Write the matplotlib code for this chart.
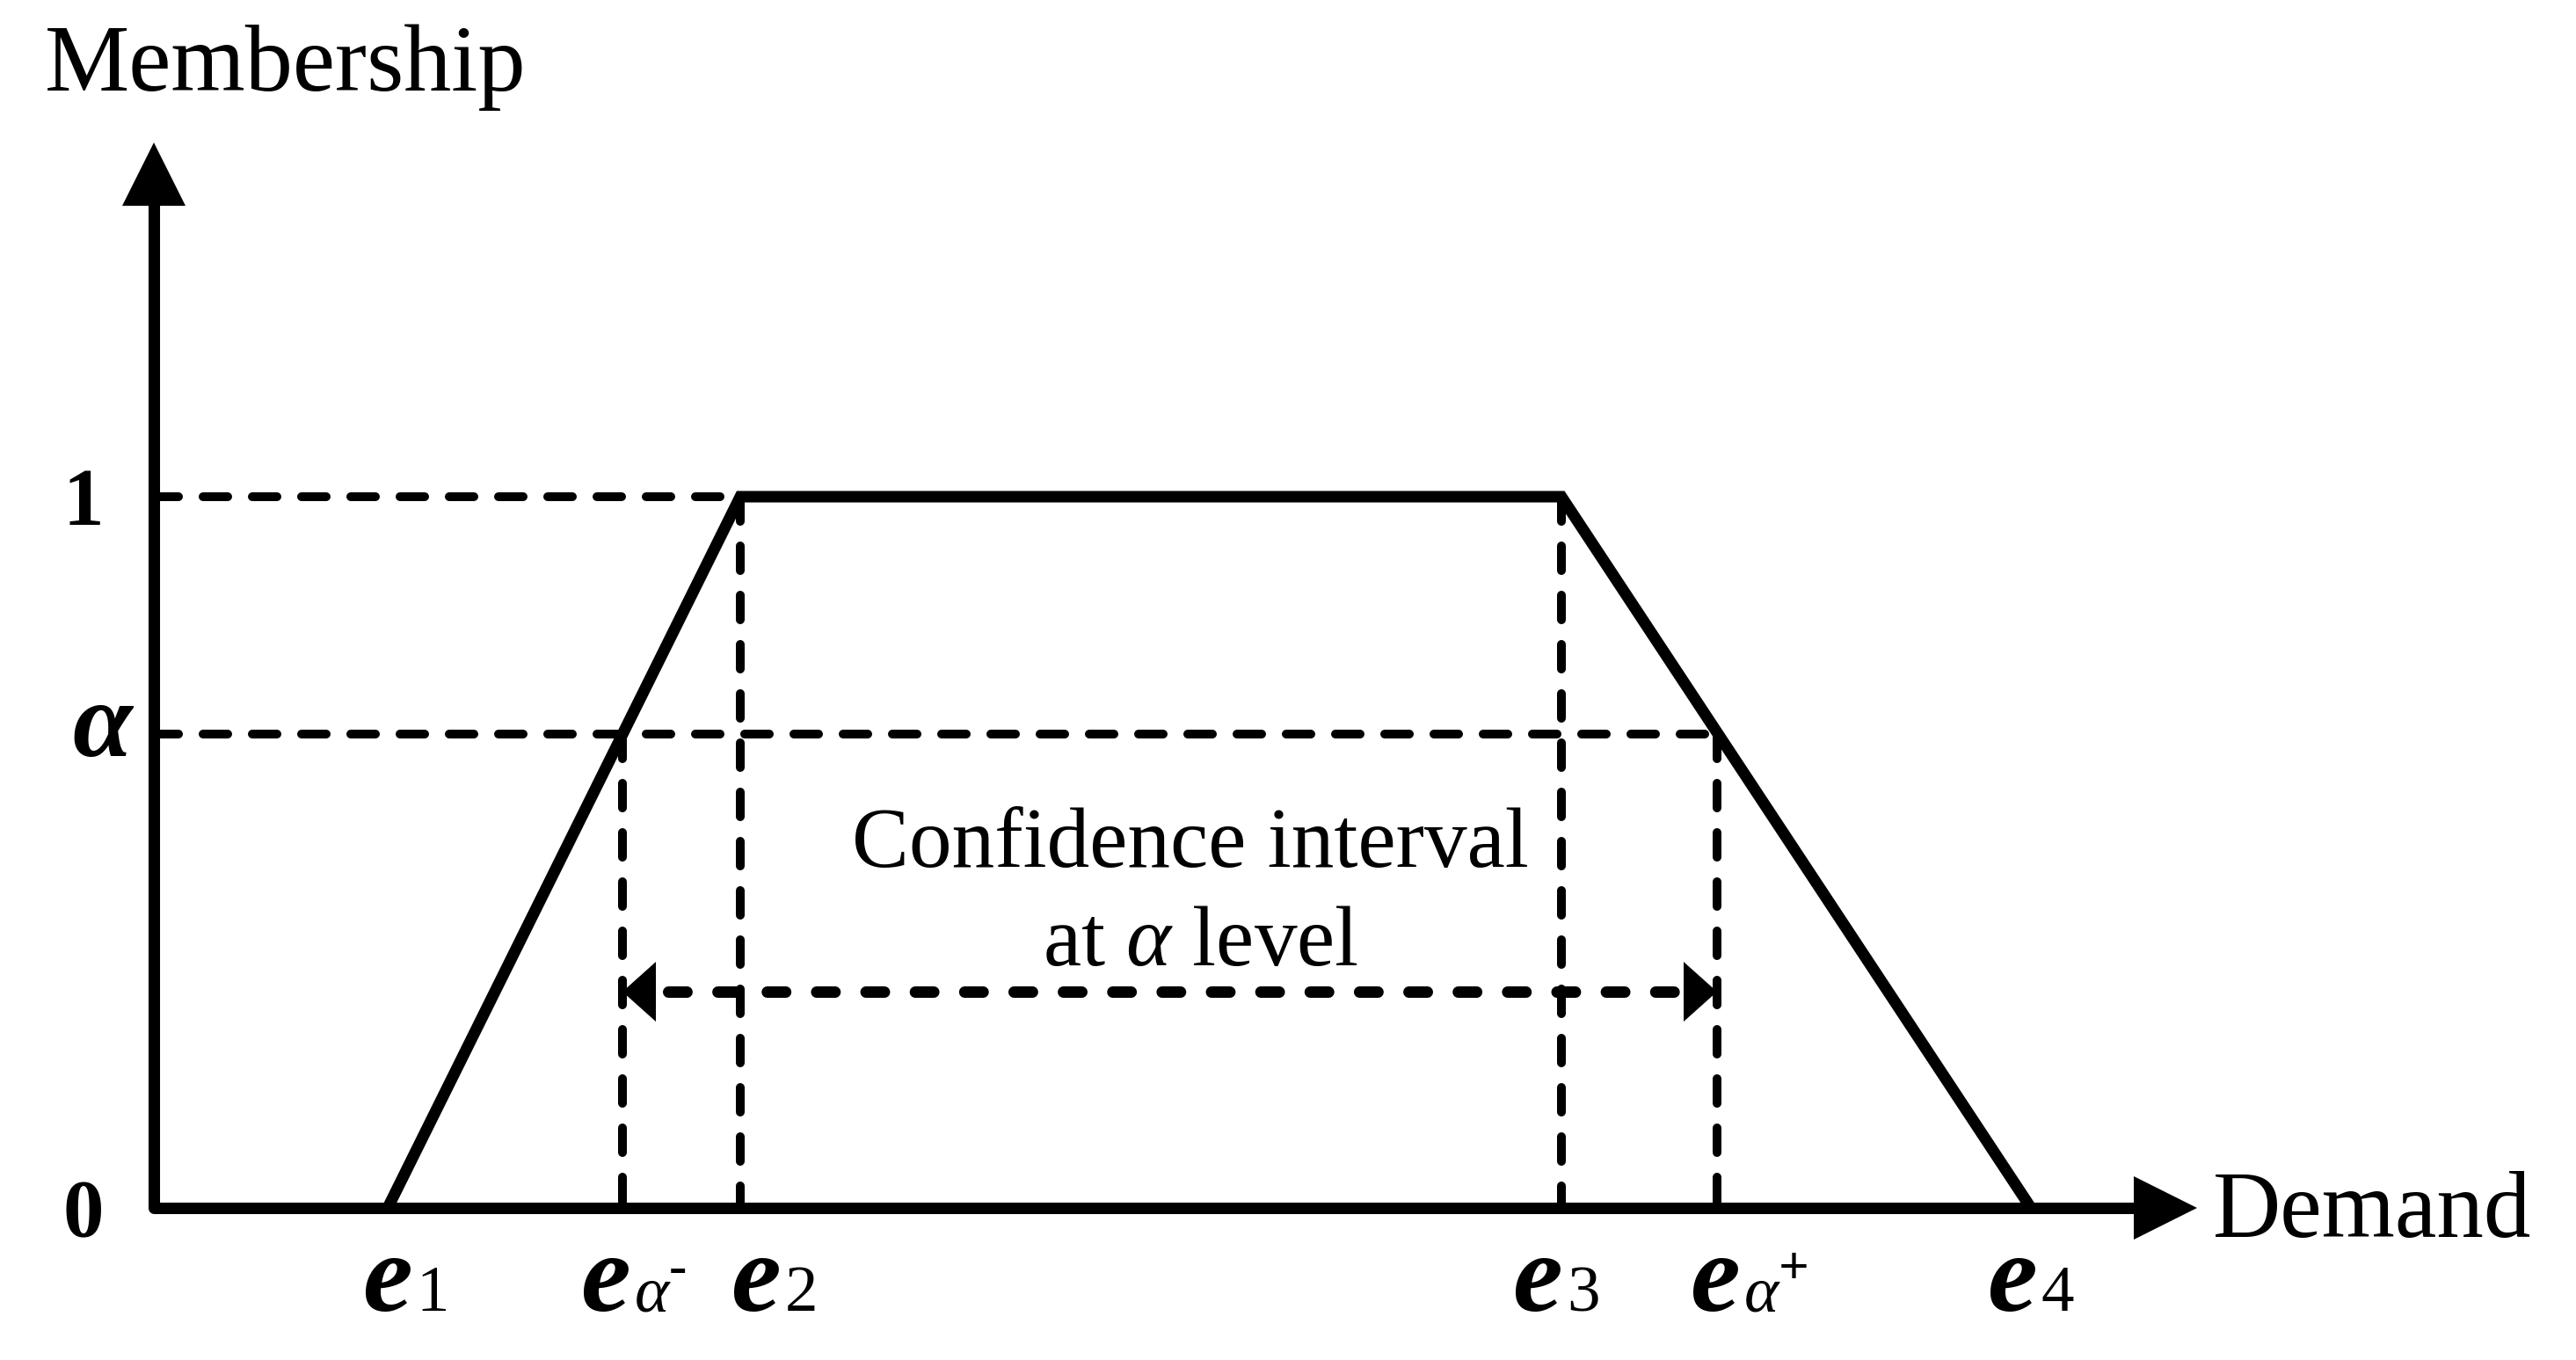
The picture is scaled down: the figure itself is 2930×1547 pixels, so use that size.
#!/usr/bin/env python3
"""Trapezoidal fuzzy membership function with an alpha-cut confidence interval."""

import matplotlib
matplotlib.use('Agg')
import matplotlib.pyplot as plt
from matplotlib.patches import Polygon

# ---- Data (demand in arbitrary units, membership 0..1) ----

E_POINTS = [2.66, 6.67, 16.01, 21.35]        # e1, e2, e3, e4
MEMBERSHIP = [0, 1, 1, 0]
ALPHA = 0.666
E_ALPHA = [5.33, 17.78]                      # e_alpha-, e_alpha+
ARROW_LEVEL = 0.304                          # height of the interval arrow

X_TIP = 23.24                                # end of demand axis
Y_TIP = 1.498                                # end of membership axis

Y_TICKS = [0, ALPHA, 1]
Y_TICK_LABELS = ['0', 'α', '1']

X_LABEL_POS = [E_POINTS[0], E_ALPHA[0], E_POINTS[1],
               E_POINTS[2], E_ALPHA[1], E_POINTS[3]]
X_LABEL_SUB = ['1', 'α', '2', '3', 'α', '4']
X_LABEL_SUP = ['', '-', '', '', '+', '']

# ---- Style ----

DPI = 100
W, H = 2930, 1547
SOLID_LW = 9.4
DASH_LW = 7.2
ARROW_LW = 9.4
AX_HEAD = (72, 36)       # length, half width (px)
IV_HEAD = (38, 34)
LABEL_DX = [-28, -47, -10, -55, -30, -49]  # left edge of 'e' vs tick (px)
LABEL_DY = -117                            # baseline below axis (px)

plt.rcParams['font.family'] = 'Liberation Serif'
plt.rcParams['mathtext.fontset'] = 'custom'
plt.rcParams['mathtext.rm'] = 'Liberation Serif'
plt.rcParams['mathtext.it'] = 'Liberation Serif:italic'


def shift(ax, x, y, dx_px, dy_px):
    """Data point moved by a pixel offset."""
    px, py = ax.transData.transform((x, y))
    return ax.transData.inverted().transform((px + dx_px, py + dy_px))


def head(ax, tip, direction, size):
    """Filled triangular arrowhead of fixed pixel size."""
    length, half = size
    ux, uy = direction
    tx, ty = tip
    left = shift(ax, tx, ty, -ux * length - uy * half, -uy * length + ux * half)
    right = shift(ax, tx, ty, -ux * length + uy * half, -uy * length - ux * half)
    ax.add_patch(Polygon([tip, left, right], closed=True, facecolor='black',
                         edgecolor='none', zorder=5, clip_on=False))


fig = plt.figure(figsize=(W / DPI, H / DPI), dpi=DPI)
ax = fig.add_axes([175 / W, 173 / H, 2400 / W, 1.5 * 809 / H])
ax.set_xlim(0, 24)
ax.set_ylim(0, 1.5)
ax.axis('off')

# guide lines (dashed)
dash = dict(color='black', lw=DASH_LW, dashes=(2.8, 2.8),
            dash_capstyle='round', zorder=2, clip_on=False)
ax.plot([0, E_POINTS[1]], [1, 1], **dash)
ax.plot([0, E_ALPHA[1]], [ALPHA, ALPHA], **dash)
for x, top in [(E_ALPHA[0], ALPHA), (E_POINTS[1], 1),
               (E_POINTS[2], 1), (E_ALPHA[1], ALPHA)]:
    ax.plot([x, x], [top, 0], **dash)

# membership function
ax.plot(E_POINTS, MEMBERSHIP, color='black', lw=SOLID_LW,
        solid_joinstyle='miter', solid_capstyle='butt', zorder=4, clip_on=False)

# axes with arrows
y_end = shift(ax, 0, Y_TIP, 0, -AX_HEAD[0] + 4)[1]
x_end = shift(ax, X_TIP, 0, -AX_HEAD[0] + 4, 0)[0]
ax.plot([0, 0, x_end], [y_end, 0, 0], color='black', lw=SOLID_LW,
        solid_joinstyle='round', solid_capstyle='butt', zorder=5, clip_on=False)
head(ax, (0, Y_TIP), (0, 1), AX_HEAD)
head(ax, (X_TIP, 0), (1, 0), AX_HEAD)

# confidence interval double arrow
x0 = shift(ax, E_ALPHA[0], ARROW_LEVEL, IV_HEAD[0] + 14, 0)[0]
x1 = shift(ax, E_ALPHA[1], ARROW_LEVEL, -IV_HEAD[0] - 4, 0)[0]
ax.plot([x0, x1], [ARROW_LEVEL, ARROW_LEVEL], color='black', lw=ARROW_LW,
        dashes=(1.6, 2.7), dash_capstyle='round', zorder=3, clip_on=False)
head(ax, (E_ALPHA[0], ARROW_LEVEL), (-1, 0), IV_HEAD)
head(ax, (E_ALPHA[1], ARROW_LEVEL), (1, 0), IV_HEAD)

# axis titles
ax.annotate('Membership', xy=(0, Y_TIP), xytext=(-124, 59),
            textcoords='offset pixels', ha='left', va='baseline',
            fontsize=78, annotation_clip=False)
ax.annotate('Demand', xy=(X_TIP, 0), xytext=(18, -33),
            textcoords='offset pixels', ha='left', va='baseline',
            fontsize=77, annotation_clip=False)

# y tick labels
for yv, lab in zip(Y_TICKS, Y_TICK_LABELS):
    if lab == 'α':
        ax.annotate(lab, xy=(0, yv), xytext=(-25, -25),
                    textcoords='offset pixels', ha='right', va='baseline',
                    fontsize=88, fontweight='bold', fontstyle='italic',
                    annotation_clip=False)
    else:
        ax.annotate(lab, xy=(0, yv), xytext=(-57, -32),
                    textcoords='offset pixels', ha='right', va='baseline',
                    fontsize=67, fontweight='bold', annotation_clip=False)

# x tick labels: bold italic e with small suffix on the same baseline
for xv, sub, sup, dx in zip(X_LABEL_POS, X_LABEL_SUB, X_LABEL_SUP, LABEL_DX):
    t = ax.annotate('e', xy=(xv, 0), xytext=(dx, LABEL_DY),
                    textcoords='offset pixels', ha='left', va='baseline',
                    fontsize=92, fontweight='bold', fontstyle='italic',
                    annotation_clip=False)
    s = ax.annotate(sub, xy=(1, 0), xycoords=(t, 'data'),
                    xytext=(4, LABEL_DY), textcoords='offset pixels',
                    ha='left', va='baseline', fontsize=54,
                    fontstyle='italic' if sub == 'α' else 'normal',
                    annotation_clip=False)
    if sup:
        ax.annotate(sup, xy=(1, 0), xycoords=(s, 'data'),
                    xytext=(0, LABEL_DY + 31), textcoords='offset pixels',
                    ha='left', va='baseline', fontsize=44, fontweight='bold',
                    annotation_clip=False)

# interval annotation
ax.text(11.79, 0.48, 'Confidence interval', ha='center', va='baseline',
        fontsize=70)
ax.text(11.9, 0.341, 'at $\\alpha$ level', ha='center', va='baseline',
        fontsize=70)

fig.savefig('out.png', dpi=DPI)
